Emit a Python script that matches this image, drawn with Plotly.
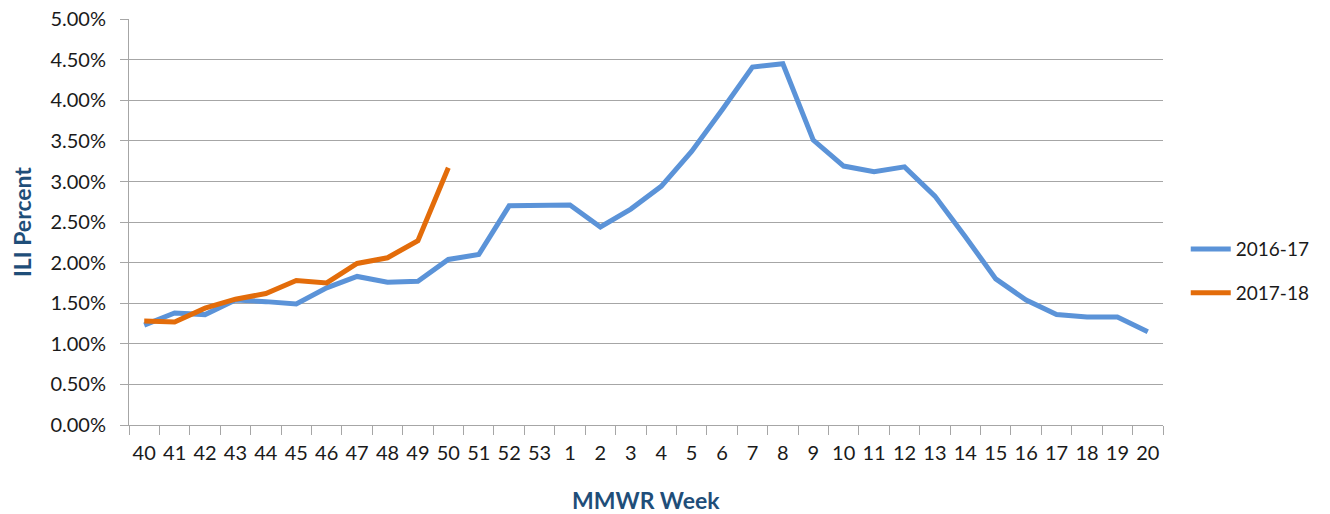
import plotly.graph_objects as go

weeks = [str(w) for w in list(range(40, 54)) + list(range(1, 21))]
ili_2016_17 = [1.23, 1.38, 1.36, 1.54, 1.52, 1.49, 1.69, 1.83, 1.76, 1.77,
               2.04, 2.10, 2.70, 2.70, 2.71, 2.44, 2.66, 2.94, 3.37, 3.88,
               4.41, 4.45, 3.51, 3.19, 3.12, 3.18, 2.82, 2.32, 1.80, 1.54,
               1.36, 1.33, 1.33, 1.15]
ili_2017_18 = [1.28, 1.27, 1.44, 1.55, 1.62, 1.78, 1.75, 1.99, 2.06, 2.27, 3.17]
y_ticks = [0, 0.5, 1, 1.5, 2, 2.5, 3, 3.5, 4, 4.5, 5]
y_tick_labels = ["%.2f%%" % v for v in y_ticks]

font_family = "Lato, 'Open Sans', sans-serif"
title_color = "#1F4E79"

fig = go.Figure()
fig.add_trace(go.Scatter(x=weeks, y=ili_2016_17, mode="lines", name="2016-17",
                         legendgroup="a",
                         line=dict(color="#5B93D8", width=5)))
fig.add_trace(go.Scatter(x=weeks[:len(ili_2017_18)], y=ili_2017_18, mode="lines",
                         name="2017-18", legendgroup="b",
                         line=dict(color="#E36C0A", width=5)))

fig.update_layout(
    width=1322, height=506,
    margin=dict(l=121, r=167, t=11, b=89),
    paper_bgcolor="white", plot_bgcolor="white",
    font=dict(family=font_family, size=19, color="#1a1a1a"),
    showlegend=True,
    legend=dict(x=1.022, y=0.379, xanchor="left", yanchor="middle",
                font=dict(size=19), tracegroupgap=16, traceorder="grouped",
                itemwidth=40, bgcolor="rgba(0,0,0,0)"),
    xaxis=dict(type="category", categoryorder="array", categoryarray=weeks,
               range=[-0.5, len(weeks) - 0.5], automargin=False,
               showgrid=False, showline=True, linecolor="#A6A6A6", linewidth=1,
               ticks="outside", tickson="boundaries", ticklen=9, tickcolor="#A6A6A6",
               tickfont=dict(size=20), tickangle=0, ticklabelstandoff=10),
    yaxis=dict(range=[0, 5.002], tickvals=y_ticks, ticktext=y_tick_labels,
               automargin=False, ticklabeloverflow="allow",
               showgrid=True, gridcolor="#A6A6A6", gridwidth=1,
               showline=True, linecolor="#A6A6A6", linewidth=1,
               ticks="outside", ticklen=8, tickcolor="#A6A6A6",
               tickfont=dict(size=20), ticklabelstandoff=10,
               zeroline=False),
    annotations=[
        dict(text="<b>MMWR Week</b>", xref="paper", yref="paper",
             x=0.5, y=0, yshift=-75, xanchor="center", yanchor="middle",
             showarrow=False, font=dict(size=23, color=title_color)),
        dict(text="<b>ILI Percent</b>", xref="paper", yref="paper",
             x=0, y=0.5, xshift=-107, xanchor="center", yanchor="middle",
             textangle=-90, showarrow=False,
             font=dict(size=23, color=title_color)),
    ],
)

fig.write_html("out.html")
